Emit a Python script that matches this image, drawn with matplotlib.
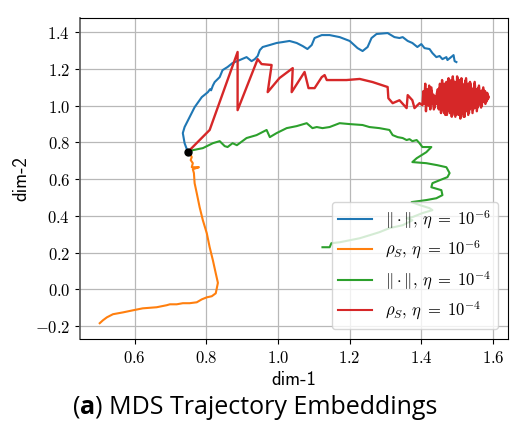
import matplotlib
matplotlib.use("Agg")
import matplotlib.pyplot as plt
from matplotlib.ticker import FuncFormatter

# ---------------- data ----------------
start_pt = (0.748, 0.748)

blue_x = [0.748, 0.739, 0.734, 0.739, 0.753, 0.767, 0.787, 0.804, 0.810, 0.813,
          0.818, 0.823, 0.837, 0.845, 0.859, 0.873, 0.893, 0.912, 0.926, 0.935,
          0.943, 0.949, 0.957, 0.977, 0.996, 1.013, 1.032, 1.052, 1.069, 1.082,
          1.094, 1.102, 1.122, 1.144, 1.172, 1.200, 1.222, 1.236, 1.250, 1.261,
          1.275, 1.306, 1.325, 1.339, 1.348, 1.362, 1.375, 1.389, 1.400, 1.409,
          1.423, 1.431, 1.442, 1.451, 1.459, 1.470, 1.473, 1.487, 1.490, 1.493, 1.498]
blue_y = [0.748, 0.796, 0.851, 0.884, 0.938, 0.992, 1.047, 1.074, 1.090, 1.084,
          1.110, 1.129, 1.156, 1.194, 1.211, 1.233, 1.249, 1.265, 1.243, 1.254,
          1.271, 1.303, 1.320, 1.331, 1.342, 1.347, 1.353, 1.342, 1.325, 1.309,
          1.331, 1.369, 1.385, 1.385, 1.374, 1.353, 1.314, 1.298, 1.320, 1.369,
          1.391, 1.396, 1.374, 1.369, 1.374, 1.353, 1.342, 1.320, 1.336, 1.314,
          1.309, 1.287, 1.265, 1.271, 1.254, 1.265, 1.249, 1.271, 1.276, 1.243, 1.238]

orange_x = [0.748, 0.756, 0.759, 0.756, 0.762, 0.759, 0.779, 0.762, 0.765, 0.767,
            0.773, 0.781, 0.790, 0.801, 0.809, 0.818, 0.826, 0.832, 0.826, 0.815,
            0.801, 0.787, 0.773, 0.753, 0.734, 0.717, 0.698, 0.689, 0.661, 0.622,
            0.594, 0.567, 0.539, 0.522, 0.511, 0.502]
orange_y = [0.748, 0.731, 0.720, 0.704, 0.687, 0.665, 0.665, 0.654, 0.633, 0.578,
            0.523, 0.447, 0.376, 0.305, 0.229, 0.158, 0.087, 0.035, -0.022, -0.038,
            -0.044, -0.055, -0.071, -0.076, -0.076, -0.082, -0.082, -0.087, -0.098, -0.104,
            -0.115, -0.126, -0.136, -0.153, -0.169, -0.185]

green_x = [0.748, 0.762, 0.790, 0.818, 0.837, 0.851, 0.859, 0.873, 0.885, 0.912,
           0.940, 0.968, 0.977, 0.996, 1.024, 1.052, 1.080, 1.096, 1.108, 1.124,
           1.144, 1.172, 1.200, 1.236, 1.255, 1.283, 1.311, 1.320, 1.334, 1.348,
           1.359, 1.367, 1.375, 1.387, 1.395, 1.403, 1.428, 1.414, 1.387, 1.375,
           1.414, 1.445, 1.470, 1.479, 1.473, 1.451, 1.431, 1.428, 1.456, 1.459,
           1.442, 1.414, 1.373, 1.395, 1.423, 1.431, 1.403, 1.375, 1.359, 1.375,
           1.348, 1.311, 1.283, 1.255, 1.228, 1.200, 1.172, 1.149, 1.144, 1.124]
green_y = [0.748, 0.758, 0.769, 0.796, 0.807, 0.780, 0.775, 0.796, 0.785, 0.824,
           0.840, 0.868, 0.829, 0.851, 0.878, 0.889, 0.905, 0.878, 0.884, 0.878,
           0.884, 0.905, 0.900, 0.895, 0.884, 0.878, 0.868, 0.840, 0.829, 0.824,
           0.813, 0.818, 0.807, 0.813, 0.796, 0.775, 0.775, 0.747, 0.714, 0.693,
           0.687, 0.676, 0.665, 0.633, 0.611, 0.594, 0.578, 0.556, 0.540, 0.513,
           0.496, 0.486, 0.475, 0.459, 0.442, 0.431, 0.415, 0.393, 0.387, 0.376,
           0.349, 0.333, 0.311, 0.294, 0.278, 0.267, 0.256, 0.251, 0.229, 0.229]

red_x = [0.748, 0.809, 0.887, 0.887, 0.943, 0.954, 0.982, 0.971, 1.004, 1.041,
         1.038, 1.074, 1.085, 1.102, 1.122, 1.130, 1.136, 1.163, 1.191, 1.228,
         1.264, 1.306, 1.308, 1.320, 1.339, 1.359, 1.362, 1.375, 1.381, 1.395, 1.403,
         # oscillating cloud, forward sweep
         1.406, 1.408, 1.411, 1.413, 1.416, 1.419, 1.422, 1.425, 1.428, 1.431,
         1.434, 1.437, 1.440, 1.443, 1.446, 1.449, 1.452, 1.455, 1.458, 1.461,
         1.464, 1.467, 1.470, 1.473, 1.476, 1.479, 1.482, 1.485, 1.488, 1.491,
         1.494, 1.497, 1.500, 1.503, 1.506, 1.509, 1.512, 1.515, 1.518, 1.521,
         1.524, 1.527, 1.530, 1.533, 1.536, 1.539, 1.542, 1.545, 1.548, 1.551,
         1.554, 1.557, 1.560, 1.563, 1.566, 1.569, 1.572, 1.575, 1.578, 1.581,
         1.584, 1.587,
         # backward sweep
         1.584, 1.579, 1.573, 1.567, 1.561, 1.555, 1.549, 1.543, 1.537, 1.531,
         1.525, 1.519, 1.513, 1.507, 1.501, 1.495, 1.489, 1.483, 1.477, 1.471,
         1.465, 1.459, 1.453, 1.447, 1.441, 1.435, 1.428, 1.420, 1.414, 1.4395,
         # second forward sweep
         1.4435, 1.4475, 1.4515, 1.4555, 1.4595, 1.4635, 1.4675, 1.4715, 1.4755, 1.4795,
         1.4835, 1.4875, 1.4915, 1.4955, 1.4995, 1.5035, 1.5075, 1.5115, 1.5155, 1.5195,
         1.5235, 1.5275, 1.5315, 1.5355, 1.5395, 1.5435, 1.5475, 1.5515, 1.5555, 1.5595,
         1.5635, 1.5675, 1.5715, 1.5755, 1.5795, 1.5835, 1.5875]
red_y = [0.748, 0.868, 1.293, 0.976, 1.254, 1.227, 1.222, 1.074, 1.151, 1.205,
         1.074, 1.184, 1.096, 1.096, 1.156, 1.167, 1.140, 1.140, 1.140, 1.146,
         1.129, 1.102, 1.041, 1.014, 1.030, 0.987, 1.058, 1.030, 0.987, 1.014, 1.003,
         1.08, 1.01, 1.12, 0.97, 1.09, 1.02, 1.11, 0.98, 1.08, 1.01,
         1.06, 0.99, 1.05, 1.02, 1.09, 0.98, 1.12, 0.96, 1.14, 0.99,
         1.10, 0.95, 1.13, 0.97, 1.15, 1.00, 1.12, 0.94, 1.16, 0.97,
         1.13, 0.95, 1.16, 0.99, 1.12, 0.93, 1.15, 0.96, 1.11, 0.94,
         1.14, 0.98, 1.10, 0.96, 1.13, 1.00, 1.09, 0.98, 1.12, 1.00,
         1.08, 0.99, 1.10, 1.02, 1.07, 1.00, 1.09, 1.03, 1.08, 1.02,
         1.06, 1.04,
         1.07, 1.01, 1.10, 0.99, 1.11, 0.97, 1.13, 0.96, 1.12, 0.95,
         1.15, 0.94, 1.13, 0.95, 1.15, 0.94, 1.14, 0.97, 1.11, 0.98,
         1.12, 0.99, 1.07, 1.00, 1.04, 0.98, 1.10, 1.00, 1.07, 1.01,
         1.07, 0.99, 1.10, 0.97, 1.12, 0.96, 1.11, 0.95, 1.13, 0.96,
         1.14, 0.95, 1.12, 0.96, 1.13, 0.95, 1.14, 0.94, 1.12, 0.96,
         1.11, 0.97, 1.12, 0.98, 1.10, 0.99, 1.10, 0.99, 1.09, 1.00,
         1.08, 1.01, 1.08, 1.02, 1.07, 1.03, 1.05]

labels = [r"$\|\cdot\|,\, \eta\; =\; 10^{-6}$", r"$\rho_S,\, \eta\; =\; 10^{-6}$",
          r"$\|\cdot\|,\, \eta\; =\; 10^{-4}$", r"$\rho_S,\, \eta\; =\; 10^{-4}$"]
x_ticks = [0.6, 0.8, 1.0, 1.2, 1.4, 1.6]
y_ticks = [-0.2, 0.0, 0.2, 0.4, 0.6, 0.8, 1.0, 1.2, 1.4]

# ---------------- plot ----------------
plt.rcParams['mathtext.fontset'] = 'cm'
plt.rcParams['path.simplify'] = False
fig = plt.figure(figsize=(5.21, 4.23), dpi=100)
ax = fig.add_axes([0.1536, 0.1986, 0.8214, 0.7588])

ax.plot(blue_x, blue_y, color='#1f77b4', lw=1.5, label=labels[0])
ax.plot(orange_x, orange_y, color='#ff7f0e', lw=1.5, label=labels[1])
ax.plot(green_x, green_y, color='#2ca02c', lw=1.5, label=labels[2])
ax.plot(red_x, red_y, color='#d62728', lw=1.7, label=labels[3],
        solid_joinstyle='round')
ax.plot([start_pt[0]], [start_pt[1]], 'o', color='black', ms=5, zorder=5)

ax.set_xlim(0.447, 1.642)
ax.set_ylim(-0.271, 1.478)
ax.set_xticks(x_ticks)
ax.set_yticks(y_ticks)
fmt = FuncFormatter(lambda v, p: "$%.1f$" % v)
ax.xaxis.set_major_formatter(fmt)
ax.yaxis.set_major_formatter(fmt)
ax.tick_params(labelsize=12)
ax.grid(True, color='#b8b8b8', lw=0.9)
ax.set_axisbelow(True)
ax.spines['left'].set_color('#666666')
ax.spines['left'].set_linewidth(1.3)

ax.set_xlabel("dim-1", family='cmss10', fontsize=13.5, labelpad=3)
ax.set_ylabel("dim-2", family='cmss10', fontsize=13.5, labelpad=3)

leg = ax.legend(loc='lower right', fontsize=12, framealpha=0.8, borderaxespad=0.6)
for h in leg.get_lines():
    h.set_linewidth(1.5)

# caption with bold "a"
cap_y = 0.022
t1 = fig.text(0.14, cap_y, "(", family='Open Sans', fontsize=18, va='baseline')
fig.canvas.draw()
r = fig.canvas.get_renderer()
bb = t1.get_window_extent(r)
x2 = bb.x1 / fig.bbox.width
t2 = fig.text(x2, cap_y, "a", family='Open Sans', fontsize=18, weight='bold', va='baseline')
bb2 = t2.get_window_extent(r)
x3 = bb2.x1 / fig.bbox.width
t3 = fig.text(x3, cap_y, ") MDS Trajectory Embeddings", family='Open Sans', fontsize=18, va='baseline')

fig.savefig("out.png", dpi=100)
